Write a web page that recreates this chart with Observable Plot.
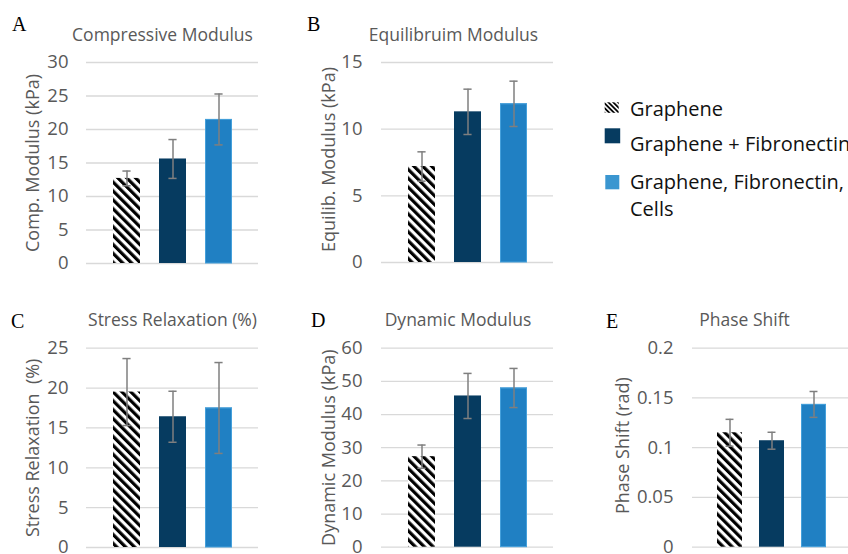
<!DOCTYPE html>
<html>
<head>
<meta charset="utf-8">
<script src="https://cdn.jsdelivr.net/npm/d3@7"></script>
<script src="https://cdn.jsdelivr.net/npm/@observablehq/plot@0.6"></script>
<style>
  html, body { margin: 0; padding: 0; background: #fff; }
  #fig { position: relative; width: 848px; height: 554px; overflow: hidden; background: #fff; }
  .panel { position: absolute; }
  .panel svg { overflow: visible; }
  svg text { white-space: pre; }
  .legend-row { position: absolute; left: 630px; width: 240px; font-family: "Open Sans", sans-serif;
                font-size: 20px; line-height: 27.4px; color: #111; }
</style>
</head>
<body>
<svg width="0" height="0" style="position:absolute">
  <defs>
    <pattern id="hatch" patternUnits="userSpaceOnUse" width="6.3" height="6.3" patternTransform="rotate(-45)">
      <rect width="6.3" height="6.3" fill="#fff"></rect>
      <rect width="3.2" height="6.3" fill="#000"></rect>
    </pattern>
    <pattern id="hatchSmall" patternUnits="userSpaceOnUse" width="3.4" height="3.4" patternTransform="rotate(-45)">
      <rect width="3.4" height="3.4" fill="#fff"></rect>
      <rect width="1.8" height="3.4" fill="#000"></rect>
    </pattern>
  </defs>
</svg>
<div id="fig"></div>
<script>
// Sample groups and their bar fills
const groups = ["Graphene", "Graphene + Fibronectin", "Graphene, Fibronectin, Cells"];
const fills = ["url(#hatch)", "#063b60", "#2080c3"];
const legendFills = ["url(#hatchSmall)", "#063b60", "#3a96d0"];

// Means and standard deviations per test
const compMean = [12.7, 15.6, 21.5];
const compSD = [1.1, 2.9, 3.8];
const equilMean = [7.2, 11.3, 11.9];
const equilSD = [1.1, 1.7, 1.7];
const relaxMean = [19.5, 16.4, 17.5];
const relaxSD = [4.2, 3.2, 5.7];
const dynMean = [27.3, 45.6, 48.0];
const dynSD = [3.5, 6.8, 5.9];
const phaseMean = [0.115, 0.107, 0.1435];
const phaseSD = [0.0135, 0.0085, 0.013];

// Axis ticks
const compTicks = [0, 5, 10, 15, 20, 25, 30];
const equilTicks = [0, 5, 10, 15];
const relaxTicks = [0, 5, 10, 15, 20, 25];
const dynTicks = [0, 10, 20, 30, 40, 50, 60];
const phaseTicks = [0, 0.05, 0.1, 0.15, 0.2];

const grey = "#595959";
const fig = d3.select("#fig");

function panel(cfg) {
  const rows = groups.map((g, i) => ({group: g, mean: cfg.mean[i], sd: cfg.sd[i]}));
  const plotW = cfg.width - cfg.marginLeft - cfg.marginRight;
  const step = plotW / (groups.length - cfg.pi + 2 * cfg.po);
  const bw = step * (1 - cfg.pi);
  const capInset = (bw - 8) / 2;
  const chart = Plot.plot({
    width: cfg.width,
    height: cfg.height,
    marginLeft: cfg.marginLeft,
    marginRight: cfg.marginRight,
    marginTop: cfg.marginTop,
    marginBottom: cfg.marginBottom,
    style: {fontFamily: '"Open Sans", sans-serif', fontSize: "18.5px", color: grey, background: "transparent", overflow: "visible"},
    x: {domain: groups, paddingInner: cfg.pi, paddingOuter: cfg.po, axis: null},
    y: {domain: [0, cfg.ticks[cfg.ticks.length - 1]], ticks: cfg.ticks, tickSize: 0,
        tickPadding: cfg.tickPadding, tickFormat: d => String(d), label: null},
    color: {domain: groups, range: fills},
    marks: [
      Plot.ruleY(cfg.ticks, {stroke: "#d9d9d9", strokeWidth: 1.3}),
      Plot.barY(rows, {x: "group", y: "mean", fill: "group"}),
      Plot.barY(rows.slice(2), {x: "group", y: "mean", fill: "none", stroke: "#45a0db", strokeWidth: 1,
        insetLeft: 0.5, insetRight: 0.5, insetTop: 0.5}),
      Plot.ruleX(rows, {x: "group", y1: d => d.mean - d.sd, y2: d => d.mean + d.sd, stroke: "#7f7f7f", strokeWidth: 1.5}),
      Plot.tickY(rows, {x: "group", y: d => d.mean + d.sd, stroke: "#7f7f7f", strokeWidth: 1.5,
        insetLeft: capInset, insetRight: capInset}),
      Plot.tickY(rows, {x: "group", y: d => d.mean - d.sd, stroke: "#7f7f7f", strokeWidth: 1.5,
        insetLeft: capInset, insetRight: capInset}),
      Plot.text([cfg.title], {text: d => d, frameAnchor: "top", textAnchor: "middle", dx: cfg.titleDx, dy: cfg.titleDy,
        fill: grey, fontSize: 17.5}),
      Plot.text([cfg.ylabel], {text: d => d, frameAnchor: "left", textAnchor: "middle", dx: cfg.ylabelDx, dy: cfg.ylabelDy,
        rotate: -90, fill: grey, fontSize: 18})
    ]
  });
  fig.append("div")
    .attr("class", "panel")
    .style("left", cfg.left + "px")
    .style("top", cfg.top + "px")
    .style("width", cfg.width + "px")
    .node().appendChild(chart);
}

const topRow = {top: 0, height: 290, marginTop: 62, titleDy: -33.6};
const bottomRow = {top: 290, height: 264, marginTop: 57.7, titleDy: -34.3};
const leftCol = {left: 0, width: 290, marginLeft: 86, marginRight: 32, pi: 0.42, po: 0.57, tickPadding: 18, ylabelDx: -53};
const midCol = {left: 290, width: 290, marginLeft: 91, marginRight: 27, pi: 0.42, po: 0.57, tickPadding: 19, ylabelDx: -52};

panel({...topRow, ...leftCol, marginBottom: 27, mean: compMean, sd: compSD, ticks: compTicks,
  title: "Compressive Modulus", titleDx: -10, ylabel: "Comp. Modulus (kPa)", ylabelDy: 0});
panel({...topRow, ...midCol, marginBottom: 28, mean: equilMean, sd: equilSD, ticks: equilTicks,
  title: "Equilibruim Modulus", titleDx: -14, ylabel: "Equilib. Modulus (kPa)", ylabelDy: -3});
panel({...bottomRow, ...leftCol, marginBottom: 7, mean: relaxMean, sd: relaxSD, ticks: relaxTicks,
  title: "Stress Relaxation (%)", titleDx: 0, ylabel: "Stress Relaxation  (%)", ylabelDy: 0});
panel({...bottomRow, ...midCol, marginBottom: 7.3, mean: dynMean, sd: dynSD, ticks: dynTicks,
  title: "Dynamic Modulus", titleDx: -9.5, ylabel: "Dynamic Modulus (kPa)", ylabelDy: 0});
panel({...bottomRow, left: 580, width: 280, marginLeft: 112, marginRight: 9, marginBottom: 7.3,
  pi: 0.405, po: 0.59, tickPadding: 19, ylabelDx: -69, ylabelDy: -2,
  mean: phaseMean, sd: phaseSD, ticks: phaseTicks, title: "Phase Shift", titleDx: -27.5, ylabel: "Phase Shift (rad)"});

// Panel letters
const letters = ["A", "B", "C", "D", "E"];
const letterPos = [[12, 30.5], [307, 30.5], [11, 327.5], [311, 327], [606, 327.5]];
const overlay = fig.append("svg")
  .attr("width", 848).attr("height", 554)
  .style("position", "absolute").style("left", 0).style("top", 0).style("pointer-events", "none");
overlay.selectAll("text").data(letters).join("text")
  .attr("x", (d, i) => letterPos[i][0])
  .attr("y", (d, i) => letterPos[i][1])
  .attr("font-family", '"Liberation Serif", "Times New Roman", serif')
  .attr("font-size", 20)
  .attr("fill", "#000")
  .text(d => d);

// Legend
const legendTop = [95.2, 130.2, 167.8];
const swatchBox = [[604.7, 102.3, 14, 10.5], [604.7, 128.3, 15.5, 15], [605.3, 175, 14, 14.3]];
overlay.selectAll("rect.sw").data(groups).join("rect")
  .attr("class", "sw")
  .attr("x", (d, i) => swatchBox[i][0])
  .attr("y", (d, i) => swatchBox[i][1])
  .attr("width", (d, i) => swatchBox[i][2])
  .attr("height", (d, i) => swatchBox[i][3])
  .attr("fill", (d, i) => legendFills[i]);
fig.selectAll("div.legend-row").data(groups).join("div")
  .attr("class", "legend-row")
  .style("top", (d, i) => legendTop[i] + "px")
  .text(d => d);
</script>
</body>
</html>
